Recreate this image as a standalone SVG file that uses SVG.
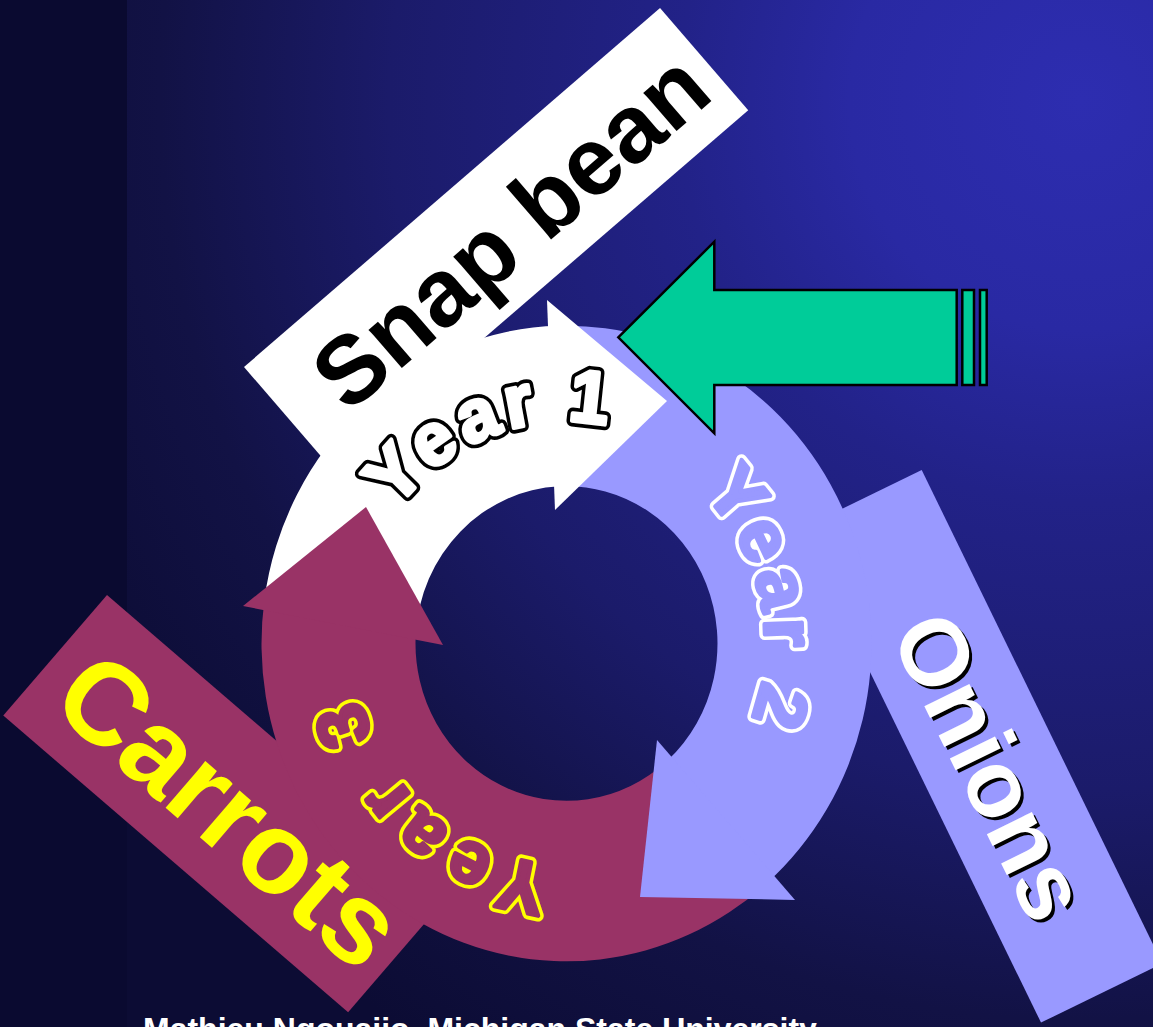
<svg xmlns="http://www.w3.org/2000/svg" width="1153" height="1027" viewBox="0 0 1153 1027">
  <defs>
    <radialGradient id="bg" gradientUnits="userSpaceOnUse" cx="1080" cy="100" r="1150">
      <stop offset="0" stop-color="#2d2db0"/>
      <stop offset="0.2" stop-color="#2929a3"/>
      <stop offset="0.35" stop-color="#222288"/>
      <stop offset="0.6" stop-color="#1b1b6a"/>
      <stop offset="0.8" stop-color="#121245"/>
      <stop offset="1" stop-color="#0c0c34"/>
    </radialGradient>
    <path id="arcY1" d="M -170.48,-127.69 A 213 213 0 0 1 195.85,-83.74"/>
    <path id="arcY2" d="M 135.63,-144.94 A 198.5 198.5 0 0 1 57.70,189.93"/>
    <path id="arcY3" d="M -16.84,212.03 A 212.7 212.7 0 0 1 -175.21,-120.59"/>
  </defs>
  <style>
    .lbl { font-family: "Liberation Sans", Arial, sans-serif; font-weight: bold; }
    .year { font-family: "Liberation Sans", Arial, sans-serif; font-weight: bold; font-size: 71px; stroke-linejoin: round; stroke-linecap: round; }
    .outer { stroke-width: 11; }
    .inner { stroke-width: 4; }
    .white { fill: #ffffff; }
    .lav { fill: #9999ff; }
    .mar { fill: #993366; }
    .grn { fill: #00cc99; stroke: #000000; stroke-width: 2.5; stroke-linejoin: miter; }
  </style>

  <!-- background -->
  <rect x="0" y="0" width="1153" height="1027" fill="url(#bg)"/>
  <rect x="0" y="0" width="127" height="1027" fill="#0a0a30"/>

  <!-- label boxes (nodes) -->
  <g id="snap-bean" transform="translate(244,367) rotate(-40.79)">
    <rect x="0" y="0" width="549.5" height="135" class="white"/>
    <text x="48" y="104" class="lbl" font-size="96" fill="#000000">Snap bean</text>
  </g>

  <g id="onions" transform="translate(921.7,470) rotate(64)">
    <rect x="0" y="0" width="549" height="135" class="lav"/>
    <text x="133" y="101" class="lbl" font-size="95" fill="#000000" transform="translate(4,-1.4)">Onions</text>
    <text x="133" y="101" class="lbl" font-size="95" fill="#ffffff">Onions</text>
  </g>

  <g id="carrots" transform="translate(107,595) rotate(40.72)">
    <rect x="0" y="0" width="455" height="159" class="mar"/>
    <text x="27" y="123" class="lbl" font-size="116" fill="#ffff00">Carrots</text>
  </g>

  <!-- cycle arrows (connectors) -->
  <g id="connectors" transform="translate(566.5,643.5) scale(1,1.042)">
    <g id="year1-arrow-body">
      <path class="white" d="M -302.25,-40.87 A 305 305 0 0 1 -7.98,-304.90 L -7.11,-150.83 A 151 151 0 0 0 -150.75,-8.69 Z"/>
    </g>
    <g id="year2-arrow-body">
      <path class="lav" d="M -7.98,-304.90 A 305 305 0 0 1 200.10,230.19 L 101.04,112.21 A 151 151 0 0 0 -7.11,-150.83 Z"/>
    </g>
    <g id="year3-arrow-body">
      <path class="mar" d="M 200.10,230.19 A 305 305 0 0 1 -302.25,-40.87 L -150.75,-8.69 A 151 151 0 0 0 101.04,112.21 Z"/>
    </g>
    <polygon id="year1-arrow-head" class="white" points="-19.5,-329.7 100.5,-232.7 -11.5,-128.1"/>
    <polygon id="year2-arrow-head" class="lav" points="90.5,92.6 73.5,243.3 228.5,246.1"/>
    <polygon id="year3-arrow-head" class="mar" points="-323.5,-36.0 -200.5,-131.0 -123.5,1.4"/>

    <g id="year1-label">
      <text class="year outer" fill="#000000" stroke="#000000" letter-spacing="5.7"><textPath href="#arcY1">Year 1</textPath></text>
      <text class="year inner" fill="#ffffff" stroke="#ffffff" letter-spacing="5.7"><textPath href="#arcY1">Year 1</textPath></text>
    </g>
    <g id="year2-label">
      <text class="year outer" fill="#ffffff" stroke="#ffffff" letter-spacing="5.5"><textPath href="#arcY2">Year 2</textPath></text>
      <text class="year inner" fill="#9999ff" stroke="#9999ff" letter-spacing="5.5"><textPath href="#arcY2">Year 2</textPath></text>
    </g>
    <g id="year3-label">
      <text class="year outer" fill="#ffff00" stroke="#ffff00" letter-spacing="10.9"><textPath href="#arcY3">Year 3</textPath></text>
      <text class="year inner" fill="#993366" stroke="#993366" letter-spacing="10.9"><textPath href="#arcY3">Year 3</textPath></text>
    </g>
  </g>

  <!-- green arrow -->
  <g id="green-arrow">
    <polygon class="grn" points="618.3,337.3 714.3,241.7 714.3,290 956.7,290 956.7,385 714.3,385 714.3,433.3"/>
    <rect class="grn" x="962.3" y="290" width="11.7" height="95"/>
    <rect class="grn" x="980" y="290" width="6.7" height="95"/>
  </g>

  <text x="143" y="1040" class="lbl" font-size="32" fill="#ffffff">Mathieu Ngouajio, Michigan State University</text>
</svg>
